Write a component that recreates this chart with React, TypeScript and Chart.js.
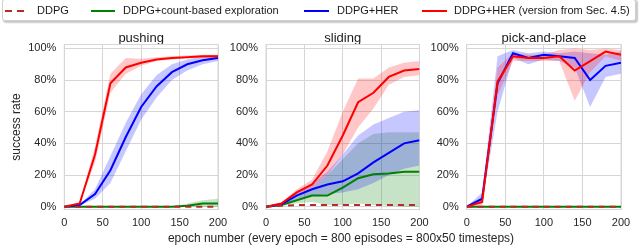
import React, { useEffect, useRef } from 'react';
import { Chart, registerables } from 'chart.js';

Chart.register(...registerables);

// ---------- data ----------
const EPOCHS = [0, 20, 40, 60, 80, 100, 120, 140, 160, 180, 200];
const X_TICKS = [0, 50, 100, 150, 200];
const Y_TICKS = [0, 20, 40, 60, 80, 100];
const PANEL_TITLES = ['pushing', 'sliding', 'pick-and-place'];
const SERIES_NAMES = ['DDPG', 'DDPG+count-based exploration', 'DDPG+HER', 'DDPG+HER (version from Sec. 4.5)'];
const X_TITLE = 'epoch number (every epoch = 800 episodes = 800x50 timesteps)';
const Y_TITLE = 'success rate';

// pushing
const pushDdpg = [0, 0, 0, 0, 0, 0, 0, 0, 0, 0, 0];
const pushGreen = [0, 0, 0, 0, 0, 0, 0, 0, 0.5, 2, 2];
const pushGreenLo = [0, 0, 0, 0, 0, 0, 0, 0, 0, 0, 0];
const pushGreenHi = [0, 0, 0, 0, 0, 0, 0, 0, 2, 4, 5];
const pushBlue = [0, 1, 8, 23, 44, 63, 76, 85, 90, 92.5, 94];
const pushBlueLo = [0, 0.5, 5, 15, 35, 55, 69, 80, 86, 90, 92];
const pushBlueHi = [0, 1.5, 11, 32, 53, 71, 83, 90, 93, 95, 96];
const pushRed = [0, 2, 33, 78, 88, 91, 93, 94, 94.5, 95, 95];
const pushRedLo = [0, 1.5, 28, 72, 84, 89, 92, 93, 94, 94, 94];
const pushRedHi = [0, 2.5, 38, 84, 94, 93.5, 94.5, 95, 95.5, 96, 96];

// sliding
const slideDdpg = [0, 0.5, 1, 1, 1, 1, 1, 1, 1, 1, 1];
const slideGreen = [0, 1, 4, 7, 7, 12, 18, 20.5, 21, 22, 22];
const slideGreenLo = [0, 0.5, 2, 3, 1, 1, 2, 1, 0.5, 0, 0];
const slideGreenHi = [0, 1.5, 6, 11, 20, 30, 40, 46, 47, 47, 47];
const slideBlue = [0, 1.5, 7, 11, 14, 16, 21, 28, 34, 40, 42];
const slideBlueLo = [0, 1, 5, 7, 8, 9, 11, 15, 20, 24, 26];
const slideBlueHi = [0, 2, 9, 15, 22, 33, 45, 52, 56, 60, 61];
const slideRed = [0, 2, 9, 14, 26, 45, 66, 72, 82, 86, 87];
const slideRedLo = [0, 1.5, 7, 11, 20, 33, 50, 62, 77, 82, 83];
const slideRedHi = [0, 2.5, 11, 17, 35, 60, 81, 81, 88, 91, 92];

// pick-and-place
const pickDdpg = [0, 0, 0, 0, 0, 0, 0, 0, 0, 0, 0];
const pickGreen = [0, 0, 0, 0, 0, 0, 0, 0, 0, 0, 0];
const pickGreenLo = [0, 0, 0, 0, 0, 0, 0, 0, 0, 0, 0];
const pickGreenHi = [0, 0, 0, 0, 0, 0, 0, 0, 0, 0, 0];
const pickBlue = [0, 5, 78, 97, 94, 96, 95, 94, 80, 89, 91];
const pickBlueLo = [0, 2, 60, 94, 90, 93, 92, 88, 63, 82, 84];
const pickBlueHi = [0, 9, 95, 99, 97, 98, 97, 98, 97, 96, 98];
const pickRed = [0, 3, 79, 95, 94, 94, 95, 86, 92, 98, 96];
const pickRedLo = [0, 1, 70, 92, 92, 92, 92, 67, 85, 95, 92];
const pickRedHi = [0, 5, 88, 97, 96, 96, 99, 100, 99, 100, 99];

const PANELS = [
  { ddpg: pushDdpg, green: [pushGreen, pushGreenLo, pushGreenHi], blue: [pushBlue, pushBlueLo, pushBlueHi], red: [pushRed, pushRedLo, pushRedHi] },
  { ddpg: slideDdpg, green: [slideGreen, slideGreenLo, slideGreenHi], blue: [slideBlue, slideBlueLo, slideBlueHi], red: [slideRed, slideRedLo, slideRedHi] },
  { ddpg: pickDdpg, green: [pickGreen, pickGreenLo, pickGreenHi], blue: [pickBlue, pickBlueLo, pickBlueHi], red: [pickRed, pickRedLo, pickRedHi] },
];

// ---------- style ----------
const FONT = '"Liberation Sans", Arial, sans-serif';
const GRID = '#d6d6d6';
const TEXT = '#262626';
const C_DDPG = '#b82a2a';
const C_GREEN = '#008000';
const C_BLUE = '#0000ff';
const C_RED = '#ff0000';
const BAND_ALPHA = 0.22;

const W = 640;
const H = 246;
const PLOT_TOP = 44.5;
const PLOT_BOTTOM = 209.5;
const PLOT_X = [
  [64.3, 218],
  [266, 419.5],
  [466.7, 621],
];

const pts = (ys: number[]) => EPOCHS.map((x, i) => ({ x, y: ys[i] }));

const framePlugin = {
  id: 'frame',
  beforeDatasetsDraw(chart: any) {
    const { ctx, chartArea } = chart;
    ctx.save();
    ctx.strokeStyle = GRID;
    ctx.lineWidth = 1;
    ctx.strokeRect(chartArea.left, chartArea.top, chartArea.right - chartArea.left, chartArea.bottom - chartArea.top);
    ctx.restore();
  },
};

function rgba(hex: string, a: number) {
  const n = parseInt(hex.slice(1), 16);
  return `rgba(${(n >> 16) & 255},${(n >> 8) & 255},${n & 255},${a})`;
}

function buildDatasets(p: any) {
  const ds: any[] = [];
  const line = (data: number[], color: string, order: number, dash?: number[]) => ({
    data: pts(data),
    borderColor: color,
    borderWidth: 2,
    borderDash: dash || [],
    pointRadius: 0,
    fill: false,
    tension: 0,
    order,
  });
  ds.push(line(p.ddpg, C_DDPG, 0, [6, 5]));
  ds.push(line(p.red[0], C_RED, 1));
  ds.push(line(p.blue[0], C_BLUE, 2));
  ds.push(line(p.green[0], C_GREEN, 3));
  const band = (lo: number[], hi: number[], color: string, order: number) => {
    const loIdx = ds.length;
    ds.push({ data: pts(lo), borderWidth: 0, borderColor: 'rgba(0,0,0,0)', pointRadius: 0, fill: false, order });
    ds.push({ data: pts(hi), borderWidth: 0, borderColor: 'rgba(0,0,0,0)', pointRadius: 0, fill: loIdx, backgroundColor: rgba(color, BAND_ALPHA), order });
  };
  band(p.red[1], p.red[2], C_RED, 10);
  band(p.blue[1], p.blue[2], C_BLUE, 11);
  band(p.green[1], p.green[2], C_GREEN, 12);
  return ds;
}

function makeChart(canvas: HTMLCanvasElement, idx: number) {
  const [pl, pr] = PLOT_X[idx];
  const yW = idx === 0 ? pl : 50;
  const padL = pl - yW;
  const padR = W - pr;
  const tickFont = { family: FONT, size: 11 };
  return new Chart(canvas, {
    type: 'line',
    data: { datasets: buildDatasets(PANELS[idx]) },
    options: {
      animation: false,
      responsive: false,
      devicePixelRatio: 1,
      layout: { padding: { left: padL, right: padR, top: PLOT_TOP - 13, bottom: 0 } },
      plugins: {
        legend: { display: false },
        tooltip: { enabled: false },
        title: {
          display: true,
          text: PANEL_TITLES[idx],
          fullSize: false,
          color: '#1a1a1a',
          font: { family: FONT, size: 13, weight: 'normal', lineHeight: 1 },
          padding: 0,
        },
      },
      scales: {
        x: {
          type: 'linear',
          min: 0,
          max: 200,
          afterBuildTicks: (s: any) => {
            s.ticks = X_TICKS.map((v) => ({ value: v }));
          },
          afterFit: (s: any) => {
            s.height = H - PLOT_BOTTOM;
          },
          grid: { color: GRID, lineWidth: 1, drawTicks: false },
          border: { display: false },
          ticks: { padding: 7, font: tickFont, color: TEXT, maxRotation: 0, autoSkip: false, callback: (v: any) => String(v) },
        },
        y: {
          type: 'linear',
          min: -1.8,
          max: 102.5,
          afterBuildTicks: (s: any) => {
            s.ticks = Y_TICKS.map((v) => ({ value: v }));
          },
          afterFit: (s: any) => {
            s.width = yW;
          },
          grid: { color: GRID, lineWidth: 1, drawTicks: false },
          border: { display: false },
          ticks: { padding: 8, font: tickFont, color: TEXT, autoSkip: false, callback: (v: any) => v + '%' },
          title: {
            display: idx === 0,
            text: Y_TITLE,
            color: TEXT,
            font: { family: FONT, size: 12 },
            padding: { top: 9, bottom: 0 },
          },
        },
      },
    } as any,
    plugins: [framePlugin],
  });
}

function Legend() {
  const txt: React.CSSProperties = {
    position: 'absolute',
    top: 4,
    fontFamily: FONT,
    fontSize: 11,
    lineHeight: '13px',
    color: '#1a1a1a',
    whiteSpace: 'nowrap',
  };
  const seg = (left: number, width: number, color: string): React.CSSProperties => ({
    position: 'absolute',
    left,
    width,
    top: 9.5,
    height: 2,
    background: color,
  });
  return (
    <div style={{ position: 'absolute', left: 0, top: 0, width: W, height: 24 }}>
      <div
        style={{
          position: 'absolute',
          left: 1.5,
          top: -1,
          width: 632,
          height: 20,
          border: '1px solid #cfcfcf',
          borderRadius: 3,
          background: '#fff',
          boxShadow: '1.5px 1.5px 1.5px rgba(0,0,0,0.22)',
        }}
      />
      <div style={seg(5, 6.5, C_DDPG)} />
      <div style={seg(17, 7, C_DDPG)} />
      <div style={{ ...txt, left: 37 }}>{SERIES_NAMES[0]}</div>
      <div style={seg(91, 24, C_GREEN)} />
      <div style={{ ...txt, left: 123 }}>{SERIES_NAMES[1]}</div>
      <div style={seg(304, 25, C_BLUE)} />
      <div style={{ ...txt, left: 337 }}>{SERIES_NAMES[2]}</div>
      <div style={seg(422, 25, C_RED)} />
      <div style={{ ...txt, left: 454 }}>{SERIES_NAMES[3]}</div>
    </div>
  );
}

export default function App() {
  const r0 = useRef<HTMLCanvasElement>(null);
  const r1 = useRef<HTMLCanvasElement>(null);
  const r2 = useRef<HTMLCanvasElement>(null);

  useEffect(() => {
    document.body.style.margin = '0';
    const charts = [r0, r1, r2].map((r, i) => makeChart(r.current as HTMLCanvasElement, i));
    return () => charts.forEach((c) => c.destroy());
  }, []);

  const cs: React.CSSProperties = { position: 'absolute', left: 0, top: 0, width: W, height: H };
  return (
    <div style={{ position: 'relative', width: W, height: H, background: '#fff', overflow: 'hidden' }}>
      <canvas ref={r0} width={W} height={H} style={cs} />
      <canvas ref={r1} width={W} height={H} style={cs} />
      <canvas ref={r2} width={W} height={H} style={cs} />
      <Legend />
      <div
        style={{
          position: 'absolute',
          left: 141,
          width: 400,
          top: 231,
          textAlign: 'center',
          fontFamily: FONT,
          fontSize: 12,
          lineHeight: '14px',
          color: TEXT,
          whiteSpace: 'nowrap',
        }}
      >
        {X_TITLE}
      </div>
    </div>
  );
}
